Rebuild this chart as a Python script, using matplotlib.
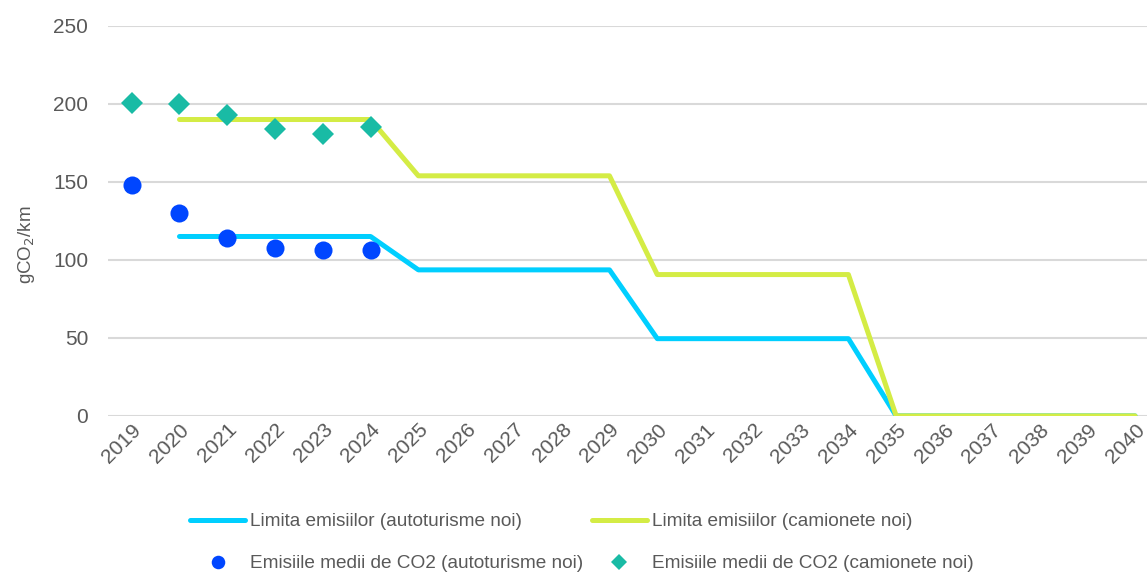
import matplotlib.pyplot as plt

years = [str(y) for y in range(2019, 2041)]

# limits (start from 2020)
limit_cars = [None, 115, 115, 115, 115, 115, 93.6, 93.6, 93.6, 93.6, 93.6,
              49.5, 49.5, 49.5, 49.5, 49.5, 0, 0, 0, 0, 0, 0]
limit_vans = [None, 190, 190, 190, 190, 190, 153.9, 153.9, 153.9, 153.9, 153.9,
              90.6, 90.6, 90.6, 90.6, 90.6, 0, 0, 0, 0, 0, 0]

# measured averages 2019-2024
avg_cars = [147.8, 130.0, 113.8, 107.6, 106.3, 106.6]
avg_vans = [200.4, 200.1, 193.0, 183.6, 180.8, 185.0]

c_line_cars = '#00CFFF'
c_line_vans = '#D4EC45'
c_dot_cars = '#0046FF'
c_dot_vans = '#19BBA5'
txt = '#595959'

plt.rcParams['font.family'] = ['Liberation Sans', 'DejaVu Sans']

fig = plt.figure(figsize=(11.47, 5.76), dpi=100)
ax = fig.add_axes([0.094, 0.278, 0.906, 0.677])

x = list(range(len(years)))
xl = [i for i, v in enumerate(limit_cars) if v is not None]
ax.plot(xl, [limit_cars[i] for i in xl], color=c_line_cars, lw=3.6,
        solid_capstyle='round', solid_joinstyle='round',
        label='Limita emisiilor (autoturisme noi)', zorder=3)
ax.plot(xl, [limit_vans[i] for i in xl], color=c_line_vans, lw=3.6,
        solid_capstyle='round', solid_joinstyle='round',
        label='Limita emisiilor (camionete noi)', zorder=3)
ax.plot(x[:len(avg_cars)], avg_cars, 'o', color=c_dot_cars, ms=13, mew=0,
        label='Emisiile medii de CO2 (autoturisme noi)', zorder=4)
ax.plot(x[:len(avg_vans)], avg_vans, 'D', color=c_dot_vans, ms=11.5, mew=0,
        label='Emisiile medii de CO2 (camionete noi)', zorder=4)

ax.set_xlim(-0.5, 21.25)
ax.set_ylim(0, 250)
ax.set_yticks(range(0, 251, 50))
ax.set_xticks(x)
ax.set_xticklabels(years, rotation=45, ha='right', rotation_mode='anchor',
                   fontsize=15, color=txt)
ax.tick_params(axis='y', labelsize=15, labelcolor=txt, length=0, pad=14)
ax.tick_params(axis='x', length=0, pad=3)
ax.grid(axis='y', color='#D9D9D9', lw=1.5)
ax.set_axisbelow(True)
for s in ax.spines.values():
    s.set_visible(False)
ax.set_ylabel('gCO$_2$/km', fontsize=13.5, color=txt)
ax.yaxis.set_label_coords(-0.068, 0.44)

h, l = ax.get_legend_handles_labels()
order = [0, 2, 1, 3]
leg = fig.legend([h[i] for i in order], [l[i] for i in order], ncol=2,
                 loc='upper left', bbox_to_anchor=(190 / 1147, 1 - 513 / 576),
                 frameon=False, borderpad=0, borderaxespad=0,
                 prop={'size': 13.7}, markerscale=0.75,
                 handlelength=2.9, handletextpad=0.25, columnspacing=0.45,
                 labelspacing=1.3)
for t in leg.get_texts():
    t.set_color(txt)

fig.savefig('out.png', dpi=100)
